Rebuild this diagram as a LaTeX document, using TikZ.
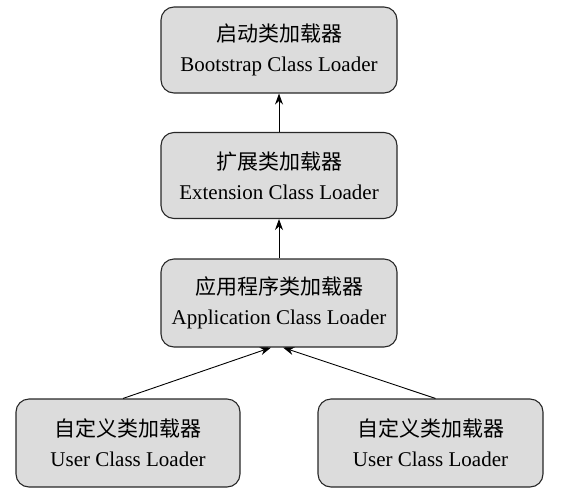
\documentclass[tikz,border=0pt]{standalone}
\usepackage{fontspec}
\setmainfont{Liberation Serif}
\newfontfamily\cjk{Noto Sans CJK SC}
\usetikzlibrary{arrows.meta,calc}
\definecolor{boxfill}{RGB}{220,220,220}
\definecolor{boxline}{RGB}{40,40,40}
\tikzset{
  loader/.style={draw=boxline, line width=1.1pt, fill=boxfill, rounded corners=13pt,
    minimum height=86pt, inner sep=0pt, align=center, font=\fontsize{21}{30}\selectfont},
  conn/.style={draw=black, line width=0.9pt, -{Stealth[length=11pt,width=8pt]}}
}
\begin{document}
\begin{tikzpicture}[x=1pt,y=-1pt]
\useasboundingbox (0,0) rectangle (580,498);
\node[loader, minimum width=236pt] (boot) at (279,50) {{\cjk 启动类加载器}\\Bootstrap Class Loader};
\node[loader, minimum width=236pt] (ext) at (279,175.5) {{\cjk 扩展类加载器}\\Extension Class Loader};
\node[loader, minimum width=236pt, minimum height=88pt] (app) at (279,303) {{\cjk 应用程序类加载器}\\Application Class Loader};
\node[loader, minimum width=224pt, minimum height=88pt] (u1) at (128,443) {{\cjk 自定义类加载器}\\User Class Loader};
\node[loader, minimum width=225pt, minimum height=88pt] (u2) at (430.5,443) {{\cjk 自定义类加载器}\\User Class Loader};
\draw[conn] (ext.north) -- (boot.south);
\draw[conn] (app.north) -- (ext.south);
\draw[conn] ([xshift=-5pt]u1.north) -- ([xshift=-8pt]app.south);
\draw[conn] ([xshift=5pt]u2.north) -- ([xshift=4pt]app.south);
\end{tikzpicture}
\end{document}
